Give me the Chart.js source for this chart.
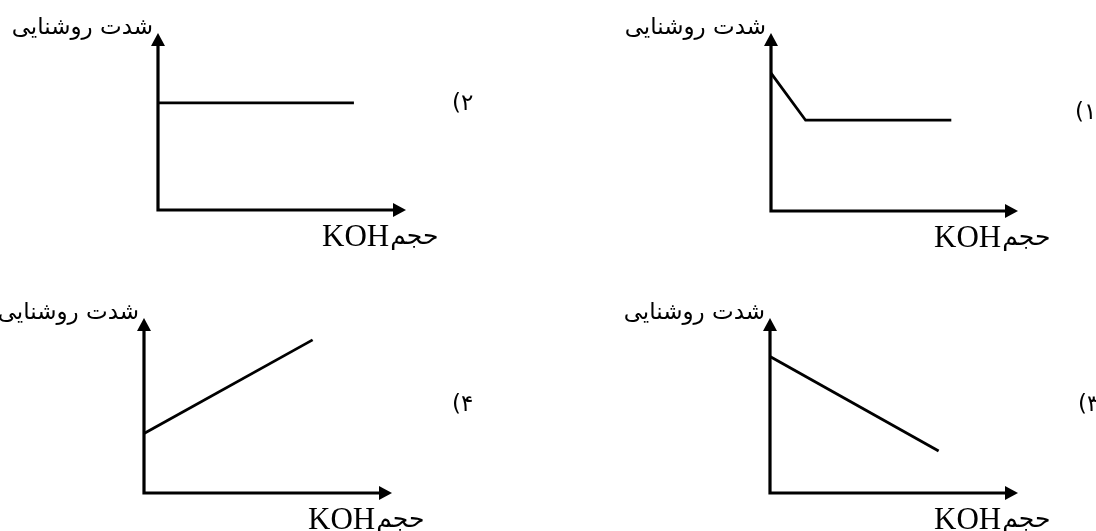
<!DOCTYPE html>
<html lang="fa">
<head>
<meta charset="utf-8">
<title>شدت روشنایی - حجم KOH</title>
<script src="https://cdn.jsdelivr.net/npm/chart.js@4"></script>
<style>
  html, body { margin: 0; padding: 0; background: #fff; }
  #page { position: relative; width: 1096px; height: 531px; overflow: hidden; background: #fff; }
  canvas { position: absolute; }
</style>
</head>
<body>
<div id="page">
  <canvas id="chart2" width="548" height="265" style="left:0;top:0"></canvas>
  <canvas id="chart1" width="548" height="265" style="left:548px;top:0"></canvas>
  <canvas id="chart4" width="548" height="266" style="left:0;top:265px"></canvas>
  <canvas id="chart3" width="548" height="266" style="left:548px;top:265px"></canvas>
</div>
<script>
// texts
const yAxisTitle = 'شدت روشنایی';
const xAxisUnit = 'KOH';
const xAxisWord = 'حجم';
const panelNumbers = ['۱', '۲', '۳', '۴'];

// axis range (arbitrary units, the arrow tips sit at the max)
const axisMax = 10;

// series, one per panel
const chart1X = [0, 1.4, 7.3];
const chart1Y = [7.75, 5.1, 5.1];
const chart2X = [0, 7.9];
const chart2Y = [6.05, 6.05];
const chart3X = [0, 6.8];
const chart3Y = [7.8, 2.4];
const chart4X = [0, 6.8];
const chart4Y = [3.4, 8.75];

const ARROW_LEN = 13;
const ARROW_HALF = 7;

// draws the two axes with arrow heads, axis titles and the option number
const axisArrows = {
  id: 'axisArrows',
  afterDraw(chart, args, opts) {
    const { ctx, scales: { x, y } } = chart;
    const x0 = x.getPixelForValue(0);
    const y0 = y.getPixelForValue(0);
    const xTip = x.getPixelForValue(axisMax);
    const yTip = y.getPixelForValue(axisMax);

    ctx.save();
    ctx.strokeStyle = '#000';
    ctx.fillStyle = '#000';
    ctx.lineWidth = 3.2;
    ctx.lineCap = 'square';
    ctx.beginPath();
    ctx.moveTo(x0, yTip + ARROW_LEN - 2);
    ctx.lineTo(x0, y0);
    ctx.lineTo(xTip - ARROW_LEN + 2, y0);
    ctx.stroke();

    ctx.beginPath();
    ctx.moveTo(x0, yTip);
    ctx.lineTo(x0 - ARROW_HALF, yTip + ARROW_LEN);
    ctx.lineTo(x0 + ARROW_HALF, yTip + ARROW_LEN);
    ctx.closePath();
    ctx.fill();

    ctx.beginPath();
    ctx.moveTo(xTip, y0);
    ctx.lineTo(xTip - ARROW_LEN, y0 - ARROW_HALF);
    ctx.lineTo(xTip - ARROW_LEN, y0 + ARROW_HALF);
    ctx.closePath();
    ctx.fill();

    // y title, horizontal, left of the arrow
    ctx.direction = 'rtl';
    ctx.textAlign = 'right';
    ctx.textBaseline = 'alphabetic';
    ctx.font = '23px "DejaVu Sans"';
    ctx.fillText(yAxisTitle, x0 - 5, yTip + 1);

    // x title under the arrow: KOH then حجم
    ctx.direction = 'ltr';
    ctx.textAlign = 'left';
    ctx.font = '31px "Liberation Serif"';
    const kx = xTip - 84;
    ctx.fillText(xAxisUnit, kx, y0 + 36);
    const kw = ctx.measureText(xAxisUnit).width;
    ctx.direction = 'rtl';
    ctx.textAlign = 'left';
    ctx.font = '25px "DejaVu Sans"';
    ctx.fillText(xAxisWord, kx + kw + 1, y0 + 34);

    // option number
    ctx.direction = 'ltr';
    ctx.textAlign = 'left';
    ctx.textBaseline = 'middle';
    ctx.font = '23px "DejaVu Sans"';
    ctx.fillText('(' + opts.num, opts.numX, opts.numY);
    ctx.restore();
  }
};

function makeChart(id, xs, ys, padding, num, numX, numY) {
  const points = xs.map((v, i) => ({ x: v, y: ys[i] }));
  return new Chart(document.getElementById(id), {
    type: 'line',
    data: {
      datasets: [{
        data: points,
        borderColor: '#000',
        borderWidth: 2.8,
        pointRadius: 0,
        tension: 0,
        fill: false,
        clip: false
      }]
    },
    options: {
      responsive: false,
      animation: false,
      layout: { padding },
      plugins: {
        legend: { display: false },
        tooltip: { enabled: false },
        axisArrows: { num, numX, numY }
      },
      scales: {
        x: { type: 'linear', min: 0, max: axisMax, display: false },
        y: { type: 'linear', min: 0, max: axisMax, display: false }
      }
    },
    plugins: [axisArrows]
  });
}

makeChart('chart2', chart2X, chart2Y, { left: 158, top: 33, right: 142, bottom: 55 }, panelNumbers[1], 452, 104);
makeChart('chart1', chart1X, chart1Y, { left: 223, top: 33, right: 78, bottom: 54 }, panelNumbers[0], 527, 113);
makeChart('chart4', chart4X, chart4Y, { left: 144, top: 53, right: 156, bottom: 38 }, panelNumbers[3], 452, 140);
makeChart('chart3', chart3X, chart3Y, { left: 222, top: 53, right: 78, bottom: 38 }, panelNumbers[2], 530, 140);
</script>
</body>
</html>
